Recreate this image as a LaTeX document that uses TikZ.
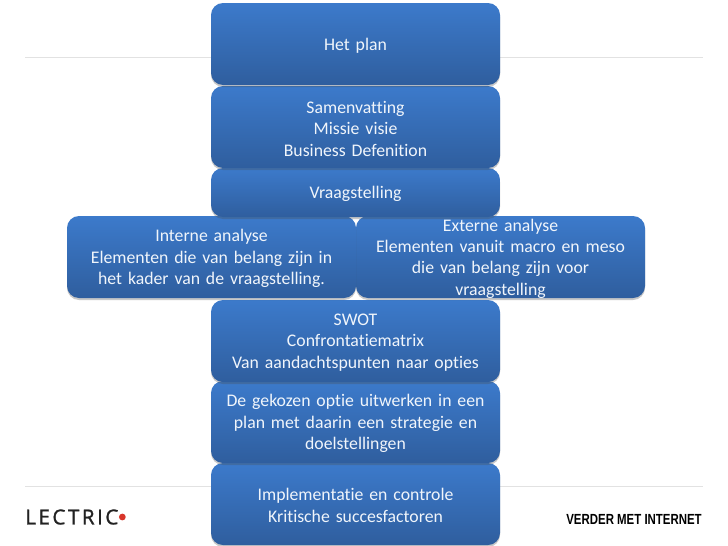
\documentclass[tikz,border=0pt]{standalone}
\usepackage{fontspec}
\setmainfont[Ligatures=NoCommon,WordSpace=0.8]{Carlito}
\newfontfamily\logofont[LetterSpace=12,RawFeature={embolden=1.2}]{Open Sans}
\newfontfamily\slogan[FakeStretch=0.78]{Liberation Sans}
\usepackage{xcolor}
\usetikzlibrary{shadows}
\definecolor{boxtop}{HTML}{3C7ACB}
\definecolor{boxbot}{HTML}{2F5E9E}
\definecolor{rulegray}{HTML}{E2E2E2}
\definecolor{labtext}{HTML}{F0F5FB}
\definecolor{logoblk}{HTML}{222222}
\definecolor{logored}{HTML}{D8352A}
\tikzset{
  block/.style={rectangle, rounded corners=9pt, minimum width=216.75pt, inner sep=0pt,
    top color=boxtop, bottom color=boxbot, text=labtext, font=\fontsize{13.3}{16.1}\selectfont,
    align=center, text width=208pt,
    execute at end node={\par\vspace*{-2.4pt}},
    drop shadow={shadow xshift=0pt, shadow yshift=-1.5pt, opacity=0.3, fill=black!70}},
  rulerline/.style={draw=rulegray, line width=0.6pt},
}
\begin{document}
\begin{tikzpicture}[x=0.75pt,y=-0.75pt]
  \useasboundingbox[fill=white] (0,0) rectangle (728,546);
  % rules behind the blocks
  \coordinate (ruleAl) at (25,57);
  \coordinate (ruleAr) at (703,57);
  \coordinate (ruleBl) at (25,486);
  \coordinate (ruleBr) at (703,486);
  \draw[rulerline] (ruleAl)--(ruleAr);
  \draw[rulerline] (ruleBl)--(ruleBr);
  % bottom block first, upper ones overlap
  \node[block, minimum height=61.5pt] (impl) at (355.5,504) {Implementatie en controle\\Kritische succesfactoren};
  \node[block, minimum height=61.5pt] (optie) at (355.5,422) {De gekozen optie uitwerken in een\\plan met daarin een strategie en\\doelstellingen};
  \node[block, minimum height=61.5pt] (swot) at (355.5,341) {SWOT\\Confrontatiematrix\\Van aandachtspunten naar opties};
  \node[block, minimum height=61.5pt] (extern) at (500.5,257) {Externe analyse\\Elementen vanuit macro en meso\\die van belang zijn voor\\vraagstelling};
  \node[block, minimum height=61.5pt] (intern) at (211.5,257) {Interne analyse\\Elementen die van belang zijn in\\het kader van de vraagstelling.};
  \node[block, minimum height=36.75pt] (vraag) at (355.5,192.5) {Vraagstelling};
  \node[block, minimum height=61.5pt] (samen) at (355.5,127) {Samenvatting\\Missie visie\\Business Defenition};
  \node[block, minimum height=61.5pt] (plan) at (355.5,44) {Het plan};
  % logo and slogan
  \node[font=\logofont\fontsize{15.5}{15.5}\selectfont, text=logoblk, anchor=west, inner sep=0pt] (logo) at (25,517) {LECTRIC};
  \node[circle, fill=logored, inner sep=1.8pt, anchor=west] (logodot) at (logo.east) {};
  \node[font=\slogan\bfseries\fontsize{11}{11}\selectfont, text=black, anchor=east, inner sep=0pt] (slogan) at (702,519) {VERDER MET INTERNET};
\end{tikzpicture}
\end{document}
